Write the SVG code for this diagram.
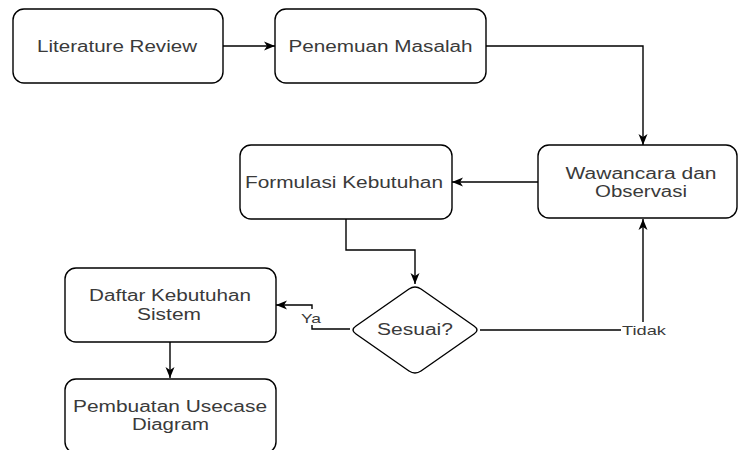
<svg xmlns="http://www.w3.org/2000/svg" width="738" height="450" viewBox="0 0 738 450">
<style>
.box{fill:#fff;stroke:#000;stroke-width:1.4}
.t{font-family:"Liberation Sans",Arial,sans-serif;font-size:16px;fill:#3a3a3a;text-anchor:middle}
.lbl{font-family:"Liberation Sans",Arial,sans-serif;font-size:13.5px;fill:#3a3a3a;text-anchor:middle}
.c{fill:none;stroke:#000;stroke-width:1.4}
</style>
<defs>
<marker id="ah" markerUnits="userSpaceOnUse" markerWidth="12" markerHeight="10" refX="11" refY="5" orient="auto">
<path d="M0,0.5 L11,5 L0,9.5 L3,5 z" fill="#000"/>
</marker>
</defs>
<rect width="738" height="450" fill="#fff"/>
<g id="connectors">
<path class="c" d="M223,46 H275" marker-end="url(#ah)"/>
<path class="c" d="M486,46 H643 V145" marker-end="url(#ah)"/>
<path class="c" d="M538,182 H452" marker-end="url(#ah)"/>
<path class="c" d="M346,219 V250 H415 V284" marker-end="url(#ah)"/>
<path class="c" d="M350,329 H312 V305 H276" marker-end="url(#ah)"/>
<path class="c" d="M480,330 H643 V219" marker-end="url(#ah)"/>
<path class="c" d="M170,342 V378" marker-end="url(#ah)"/>
<rect x="301" y="309" width="21" height="16" fill="#fff"/>
<text class="lbl" x="311" y="323" textLength="20" lengthAdjust="spacingAndGlyphs">Ya</text>
<rect x="621" y="322" width="46" height="15" fill="#fff"/>
<text class="lbl" x="644" y="334.5" textLength="44" lengthAdjust="spacingAndGlyphs">Tidak</text>
</g>
<g id="literature">
<rect class="box" x="13" y="9" width="210" height="74" rx="11"/>
<text class="t" x="117" y="52" textLength="160" lengthAdjust="spacingAndGlyphs">Literature Review</text>
</g>
<g id="penemuan">
<rect class="box" x="275" y="9" width="211" height="74" rx="11"/>
<text class="t" x="380.5" y="52" textLength="184" lengthAdjust="spacingAndGlyphs">Penemuan Masalah</text>
</g>
<g id="wawancara">
<rect class="box" x="538" y="145" width="199" height="73" rx="11"/>
<text class="t" x="641" y="179" textLength="151" lengthAdjust="spacingAndGlyphs">Wawancara dan</text>
<text class="t" x="641" y="197" textLength="92" lengthAdjust="spacingAndGlyphs">Observasi</text>
</g>
<g id="formulasi">
<rect class="box" x="240" y="145" width="212" height="74" rx="11"/>
<text class="t" x="344" y="188" textLength="198" lengthAdjust="spacingAndGlyphs">Formulasi Kebutuhan</text>
</g>
<g id="sesuai">
<path class="box" d="M409,289 Q415,285 421,289 L474,326 Q480,330 474,334 L421,371 Q415,375 409,371 L356,334 Q350,330 356,326 Z"/>
<text class="t" x="415" y="335" textLength="76" lengthAdjust="spacingAndGlyphs">Sesuai?</text>
</g>
<g id="daftar">
<rect class="box" x="65" y="268" width="211" height="74" rx="11"/>
<text class="t" x="170" y="301" textLength="162" lengthAdjust="spacingAndGlyphs">Daftar Kebutuhan</text>
<text class="t" x="169" y="320" textLength="64" lengthAdjust="spacingAndGlyphs">Sistem</text>
</g>
<g id="pembuatan">
<rect class="box" x="65" y="379" width="211" height="74" rx="11"/>
<text class="t" x="170" y="412" textLength="194" lengthAdjust="spacingAndGlyphs">Pembuatan Usecase</text>
<text class="t" x="170.5" y="430" textLength="77" lengthAdjust="spacingAndGlyphs">Diagram</text>
</g>
</svg>
